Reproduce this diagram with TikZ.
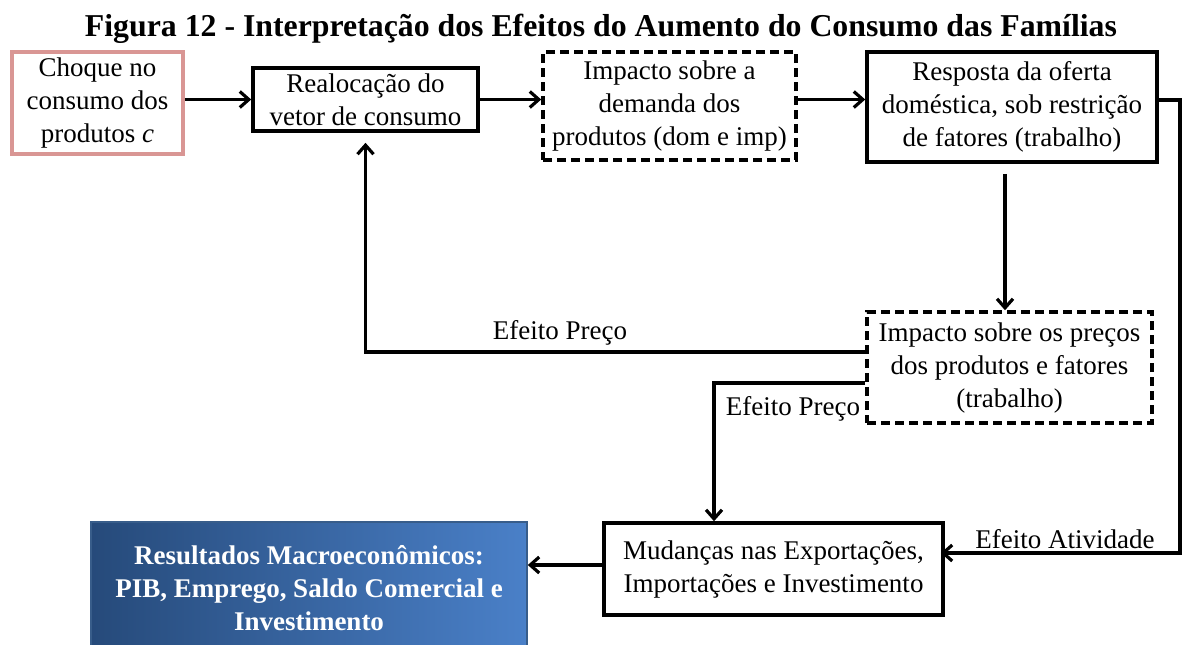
\documentclass[tikz,border=0pt]{standalone}
\usepackage{fontspec}
\setmainfont{Liberation Serif}
\usetikzlibrary{arrows.meta,positioning,calc}
\definecolor{choqueColor}{HTML}{D99694}
\definecolor{resDark}{HTML}{264A7A}
\definecolor{resLight}{HTML}{4A80C8}
\definecolor{resBorder}{HTML}{385D8A}
\tikzset{
	caixa/.style={draw, line width=1.8pt, align=center, inner sep=2pt, font=\fontsize{13.5}{16.5}\selectfont},
	tracejada/.style={caixa, dash pattern=on 4.5pt off 2.5pt},
	liga/.style={line width=1.8pt, -{Straight Barb[length=4.5pt,width=8pt,line width=1.6pt]}},
	rotulo/.style={font=\fontsize{13.5}{16}\selectfont}
}
\begin{document}
\begin{tikzpicture}[x=0.5pt,y=-0.5pt]
				\useasboundingbox (0,0) rectangle (1182,644);
				\node[font=\fontsize{15.9}{18}\selectfont\bfseries] (titulo) at (601, 29) {Figura 12 - Interpretação dos Efeitos do Aumento do Consumo das Famílias};
				
				\node[caixa, draw=choqueColor, minimum width=85.5pt, minimum height=51pt] (choque) at (97.5, 103) {Choque no\\consumo dos\\produtos \textit{c}};
				\node[caixa, minimum width=112.5pt, minimum height=31.5pt] (realoc) at (365.5, 99.5) {Realocação do\\vetor de consumo};
				\node[tracejada, minimum width=126.5pt, minimum height=54pt] (demanda) at (669.5, 106) {Impacto sobre a\\demanda dos\\produtos (dom e imp)};
				\node[caixa, minimum width=145pt, minimum height=55pt] (resposta) at (1012, 107) {Resposta da oferta\\doméstica, sob restrição\\de fatores (trabalho)};
				\node[tracejada, minimum width=142.5pt, minimum height=55.5pt] (precos) at (1009.5, 367.5) {Impacto sobre os preços\\dos produtos e fatores\\(trabalho)};
				\node[caixa, minimum width=169.5pt, minimum height=46pt] (mudancas) at (773.5, 569) {Mudanças nas Exportações,\\Importações e Investimento};
				\node[caixa, draw=resBorder, line width=0.8pt, left color=resDark, right color=resLight, text=white, font=\fontsize{13.5}{16.5}\selectfont\bfseries, minimum width=218pt, minimum height=66pt] (resultados) at (309, 588) {Resultados Macroeconômicos:\\PIB, Emprego, Saldo Comercial e\\Investimento};
				
				\coordinate (canto) at (1180, 100);
				\coordinate (saida) at ([yshift=2pt]mudancas.west);
				\coordinate (desce) at ([xshift=-2.25pt]precos.north);
				
				\draw[liga] (choque.east |- realoc.west) -- (realoc.west);
				\draw[liga] (realoc.east) -- (demanda.west |- realoc.east);
				\draw[liga] (demanda.east |- realoc.east) -- (resposta.west |- realoc.east);
				\draw[liga] ([yshift=-5pt]desce |- resposta.south) -- (desce);
				\draw[liga, shorten >=5pt] ([yshift=7.75pt]precos.west) -| (realoc.south);
				\draw[liga] ([yshift=-7.75pt]precos.west) -| ([xshift=-29.75pt]mudancas.north);
				\draw[liga, shorten >=-2pt] (resposta.east |- canto) -- (canto) |- ([yshift=8pt]mudancas.east);
				\draw[liga] (saida) -- (resultados.east |- saida);
				
				\node[rotulo] (efpreco1) at (560, 333) {Efeito Preço};
				\node[rotulo] (efpreco2) at (793, 409) {Efeito Preço};
				\node[rotulo] (efativ) at (1065, 539) {Efeito Atividade};
			\end{tikzpicture}
\end{document}
